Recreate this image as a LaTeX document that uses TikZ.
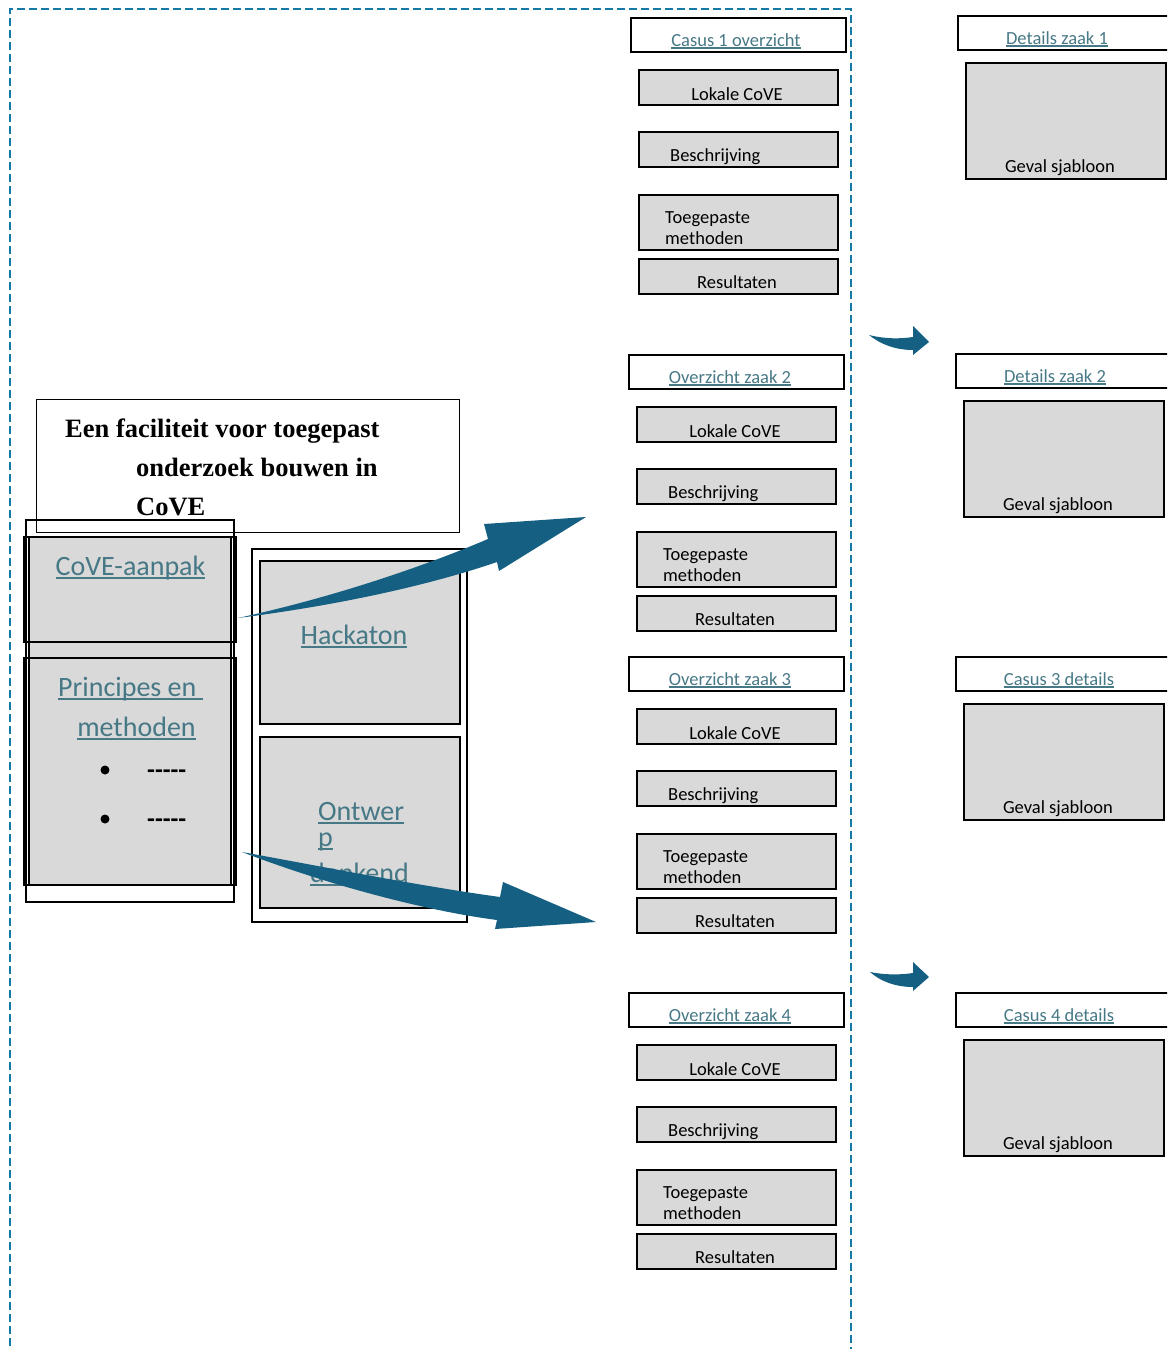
\documentclass[tikz,border=0pt]{standalone}
\usepackage{fontspec}
\setmainfont{Carlito}
\newfontfamily\titelfont{Liberation Serif}
\newcommand\ondlijn[1]{\setbox0\hbox{#1}\rlap{\raisebox{-0.14em}{\rule{\wd0}{0.065em}}}\box0}
\definecolor{linkkleur}{HTML}{467886}
\definecolor{pijlkleur}{HTML}{156082}
\definecolor{randkleur}{RGB}{22,122,166}
\definecolor{vlakgrijs}{HTML}{D9D9D9}

\begin{document}
\begin{tikzpicture}[x=1pt,y=-1pt,
   every node/.style={inner sep=0pt,font=\fontsize{18.5}{22}\selectfont},
   kader/.style={draw,line width=1.8pt,anchor=north west},
   grijsvlak/.style={kader,fill=vlakgrijs},
   link/.style={text=linkkleur},
   groot/.style={font=\fontsize{28}{34}\selectfont},
   titeltekst/.style={anchor=base west,font=\titelfont\bfseries\fontsize{26.5}{39}\selectfont},
   pijl/.style={fill=pijlkleur}]

\useasboundingbox (0,0) rectangle (1167,1349);
\clip (0,0) rectangle (1167,1349);

\draw[randkleur,line width=2.8pt,dash pattern=on 8pt off 4pt] (10,1370) -- (10,9) -- (851,9) -- (851,1370);

% overzicht per casus
\foreach \i/\xa/\ya/\xk/\kop in {1/630/17/736/Casus 1 overzicht,2/628/354/730/Overzicht zaak 2,
                                 3/628/656/730/Overzicht zaak 3,4/628/992/730/Overzicht zaak 4}{
	\node[kader,minimum width=215,minimum height=34] (kop\i) at (\xa,\ya) {};
	\node[link,anchor=base] (koptekst\i) at (\xk,\ya+29) {\ondlijn{\kop}};
	\node[grijsvlak,minimum width=199,minimum height=35] (lokaal\i) at (\xa+8,\ya+52) {};
	\node[anchor=base] (lokaaltekst\i) at (\xa+107,\ya+83) {Lokale CoVE};
	\node[grijsvlak,minimum width=199,minimum height=35] (beschr\i) at (\xa+8,\ya+114) {};
	\node[anchor=base west] (beschrtekst\i) at (\xa+40,\ya+144) {Beschrijving};
	\node[grijsvlak,minimum width=199,minimum height=55] (methode\i) at (\xa+8,\ya+177) {};
	\node[anchor=base west] (methodetekstA\i) at (\xa+35,\ya+206) {Toegepaste};
	\node[anchor=base west] (methodetekstB\i) at (\xa+35,\ya+227) {methoden};
	\node[grijsvlak,minimum width=199,minimum height=35] (result\i) at (\xa+8,\ya+241) {};
	\node[anchor=base west] (resulttekst\i) at (\xa+67,\ya+271) {Resultaten};
}

% details per casus
\foreach \i/\xb/\yb/\xk/\kop in {1/957/15/1057/Details zaak 1,2/955/353/1055/Details zaak 2,
                                 3/955/656/1059/Casus 3 details,4/955/992/1059/Casus 4 details}{
	\node[kader,minimum width=240,minimum height=34] (detailkop\i) at (\xb,\yb) {};
	\node[link,anchor=base] (detailtekst\i) at (\xk,\yb+29) {\ondlijn{\kop}};
	\node[grijsvlak,minimum width=200,minimum height=116] (sjabloon\i) at (\xb+8,\yb+47) {};
	\node[anchor=base] (sjabloontekst\i) at (\xb+103,\yb+157) {Geval sjabloon};
}

% linkerkant
\node[kader,minimum width=208,minimum height=382] (linksbuiten) at (25,519) {};
\node[grijsvlak,minimum width=202,minimum height=348] (linksgrijs) at (28,536) {};
\node[kader,minimum width=212,minimum height=105] (aanpak) at (23,536) {};
\node[kader,minimum width=212,minimum height=227] (principes) at (23,657) {};
\node[kader,line width=1pt,minimum width=423,minimum height=133] (titelkader) at (36,399) {};
\node[titeltekst] (titel1) at (65,437) {Een faciliteit voor toegepast};
\node[titeltekst] (titel2) at (136,476) {onderzoek bouwen in};
\node[titeltekst] (titel3) at (136,515) {CoVE};

\node[link,groot,anchor=base] (aanpaktekst) at (130.5,575) {\ondlijn{CoVE-aanpak}};
\node[link,groot,anchor=base west] (principestekst1) at (58,696) {\ondlijn{Principes en\ }};
\node[link,groot,anchor=base] (principestekst2) at (136.5,736) {\ondlijn{methoden}};
\node[circle,fill,minimum size=9pt] (bol1) at (105,770) {};
\node[circle,fill,minimum size=9pt] (bol2) at (105,819) {};
\node[anchor=west,font=\bfseries\fontsize{25.5}{30}\selectfont] (streep1) at (147,774) {-{}-{}-{}-{}-};
\node[anchor=west,font=\bfseries\fontsize{25.5}{30}\selectfont] (streep2) at (147,823) {-{}-{}-{}-{}-};

\node[draw,line width=1.8pt,anchor=north west,minimum width=215,minimum height=373] (werkvormen) at (251,548) {};
\node[grijsvlak,minimum width=200,minimum height=163] (hackaton) at (259,560) {};
\node[grijsvlak,minimum width=200,minimum height=171] (ontwerp) at (259,736) {};
\node[link,groot,anchor=base] (hackatontekst) at (354,644) {\ondlijn{Hackaton}};
\node[link,groot,anchor=base west] (ontwerptekst1) at (318,820) {\ondlijn{Ontwer}};
\node[link,groot,anchor=base west] (ontwerptekst2) at (318,846) {\ondlijn{p}};
\node[link,groot,anchor=base west] (ontwerptekst3) at (310,882) {\ondlijn{denkend}};

% pijlen
\coordinate (staart1) at (238,618);
\coordinate (punt1) at (586,517);
\coordinate (staart2) at (242,852);
\coordinate (punt2) at (596,922);
\fill[pijl] (staart1) .. controls (330,598) and (420,568) .. (488,539) -- (484,524) -- (punt1)
	-- (499,571) -- (497,562) .. controls (430,585) and (340,605) .. (staart1) -- cycle;
\fill[pijl] (staart2) .. controls (330,868) and (420,886) .. (500,897) -- (503,882) -- (punt2)
	-- (495,929) -- (497,920) .. controls (420,910) and (320,882) .. (staart2) -- cycle;

\coordinate (staart3) at (869,335);
\coordinate (punt3) at (929,342);
\coordinate (staart4) at (870,972);
\coordinate (punt4) at (929,977);
\fill[pijl] (staart3) .. controls (885,339) and (900,339) .. (913,337) -- (913,326) -- (punt3)
	-- (913,355) -- (913,350) .. controls (895,350) and (880,344) .. (staart3) -- cycle;
\fill[pijl] (staart4) .. controls (885,975) and (900,975) .. (913,973) -- (913,962) -- (punt4)
	-- (913,991) -- (913,987) .. controls (895,987) and (880,981) .. (staart4) -- cycle;
\end{tikzpicture}
\end{document}
